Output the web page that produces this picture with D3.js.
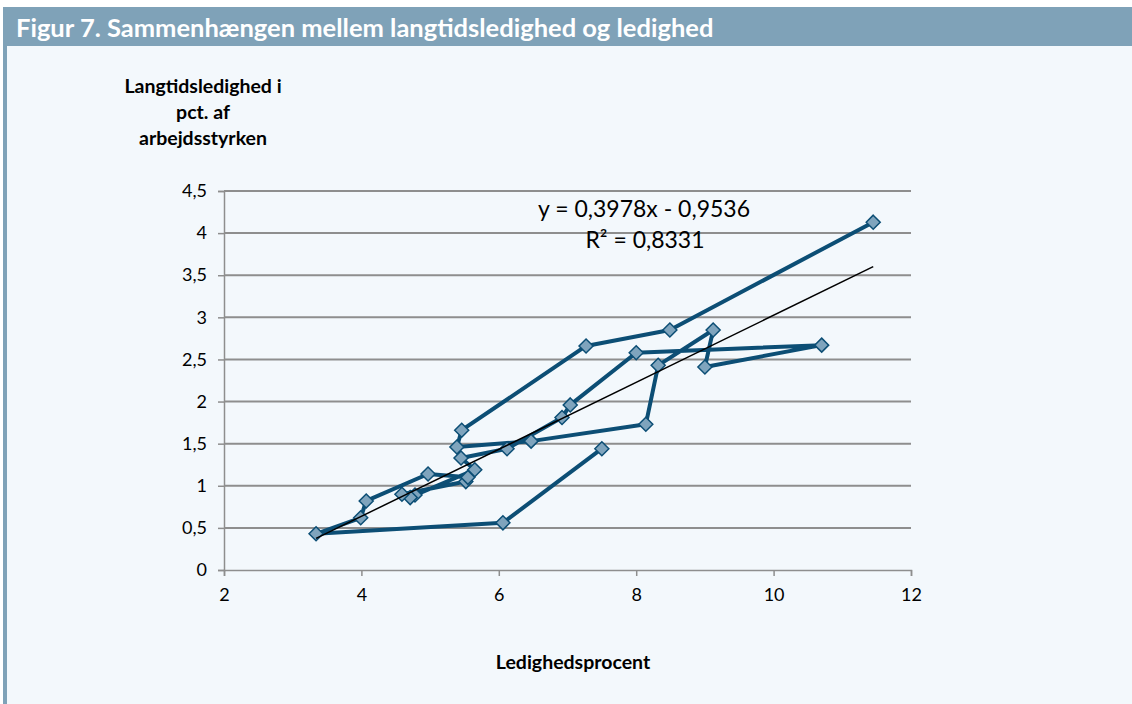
<!DOCTYPE html>
<html>
<head>
<meta charset="utf-8">
<script src="https://cdn.jsdelivr.net/npm/d3@7"></script>
<style>
  body { margin: 0; background: #fff; }
  svg { display: block; font-family: Lato, "Open Sans", sans-serif; }
</style>
</head>
<body>
<svg id="chart"></svg>
<script>
// points in the order they are joined
var ledighed = [11.45, 8.49, 7.27, 5.46, 5.39, 6.47, 8.14, 8.32, 9.12, 9.0, 10.7, 8.0, 7.04, 6.92,
  6.12, 5.45, 5.65, 4.78, 4.71, 4.59, 5.52, 5.55, 4.97, 4.07, 3.99, 3.34, 6.06, 7.5];
var langtid = [4.13, 2.85, 2.66, 1.66, 1.46, 1.53, 1.73, 2.43, 2.85, 2.41, 2.67, 2.58, 1.96, 1.81,
  1.44, 1.33, 1.19, 0.89, 0.86, 0.9, 1.05, 1.1, 1.14, 0.82, 0.62, 0.43, 0.56, 1.44];

var xTicks = [2, 4, 6, 8, 10, 12];
var yTicks = [0, 0.5, 1, 1.5, 2, 2.5, 3, 3.5, 4, 4.5];

var trendSlope = 0.3978;
var trendIntercept = -0.9536;
var r2 = 0.8331;

var title = 'Figur 7. Sammenhængen mellem langtidsledighed og ledighed';
var yTitle = ['Langtidsledighed i', 'pct. af', 'arbejdsstyrken'];
var xTitle = 'Ledighedsprocent';

var width = 1132, height = 704;
var comma = function(v) { return String(v).replace('.', ','); };

var svg = d3.select('#chart')
  .attr('width', width)
  .attr('height', height);

// frame
svg.append('rect').attr('x', 3).attr('y', 7).attr('width', width - 3).attr('height', 39).attr('fill', '#7fa2b8');
svg.append('rect').attr('x', 3).attr('y', 46).attr('width', 4).attr('height', height - 46).attr('fill', '#7fa2b8');
svg.append('rect').attr('x', 7).attr('y', 46).attr('width', width - 7).attr('height', height - 46).attr('fill', '#f3f8fc');

svg.append('text')
  .attr('x', 16).attr('y', 37)
  .attr('fill', '#fff')
  .style('font-size', '25.5px')
  .style('font-weight', 'bold')
  .text(title);

var x = d3.scaleLinear().domain([2, 12]).range([224, 911]);
var y = d3.scaleLinear().domain([0, 4.5]).range([570, 191]);

// gridlines
svg.append('g')
  .selectAll('line')
  .data(yTicks.filter(d => d > 0))
  .enter()
  .append('line')
  .attr('x1', x(2)).attr('x2', x(12))
  .attr('y1', d => y(d)).attr('y2', d => y(d))
  .attr('stroke', '#8e8e8e')
  .attr('stroke-width', 2);

var yAxis = svg.append('g')
  .attr('transform', 'translate(' + x(2) + ',0)')
  .call(d3.axisLeft(y).tickValues(yTicks).tickSize(6).tickPadding(11).tickFormat(comma));

var xAxis = svg.append('g')
  .attr('transform', 'translate(0,' + y(0) + ')')
  .call(d3.axisBottom(x).tickValues(xTicks).tickSize(6).tickPadding(12).tickFormat(comma));

[yAxis, xAxis].forEach(function(ax) {
  ax.select('.domain').attr('stroke', '#8e8e8e').attr('stroke-width', 1.5);
  ax.selectAll('.tick line').attr('stroke', '#8e8e8e').attr('stroke-width', 1.5);
  ax.selectAll('.tick text')
    .attr('fill', '#000')
    .style('font-size', '18px')
    .style('font-family', 'Lato, sans-serif');
});

// axis titles
svg.append('text')
  .attr('text-anchor', 'middle')
  .style('font-size', '19.5px')
  .style('font-weight', 'bold')
  .selectAll('tspan')
  .data(yTitle)
  .enter()
  .append('tspan')
  .attr('x', 203)
  .attr('y', (d, i) => 93 + i * 26)
  .text(d => d);

svg.append('text')
  .attr('x', 573).attr('y', 669)
  .attr('text-anchor', 'middle')
  .style('font-size', '19.5px')
  .style('font-weight', 'bold')
  .text(xTitle);

// series
var pts = ledighed.map((v, i) => [v, langtid[i]]);

svg.append('path')
  .datum(pts)
  .attr('fill', 'none')
  .attr('stroke', '#0c4e75')
  .attr('stroke-width', 4)
  .attr('stroke-linejoin', 'round')
  .attr('d', d3.line().x(d => x(d[0])).y(d => y(d[1])));

svg.append('g')
  .selectAll('path')
  .data(pts)
  .enter()
  .append('path')
  .attr('transform', d => 'translate(' + x(d[0]) + ',' + y(d[1]) + ')')
  .attr('d', 'M0,-7L7,0L0,7L-7,0Z')
  .attr('fill', '#7fa4bd')
  .attr('stroke', '#0c4e75')
  .attr('stroke-width', 1.5);

// linear trend
var xMin = d3.min(ledighed), xMax = d3.max(ledighed);
svg.append('line')
  .attr('x1', x(xMin)).attr('y1', y(trendSlope * xMin + trendIntercept))
  .attr('x2', x(xMax)).attr('y2', y(trendSlope * xMax + trendIntercept))
  .attr('stroke', '#000')
  .attr('stroke-width', 1.5);

svg.append('text')
  .attr('x', 644).attr('y', 217)
  .attr('text-anchor', 'middle')
  .style('font-size', '23px')
  .text('y = ' + comma(trendSlope) + 'x - ' + comma(-trendIntercept));

svg.append('text')
  .attr('x', 645).attr('y', 248)
  .attr('text-anchor', 'middle')
  .style('font-size', '23px')
  .text('R² = ' + comma(r2));
</script>
</body>
</html>
